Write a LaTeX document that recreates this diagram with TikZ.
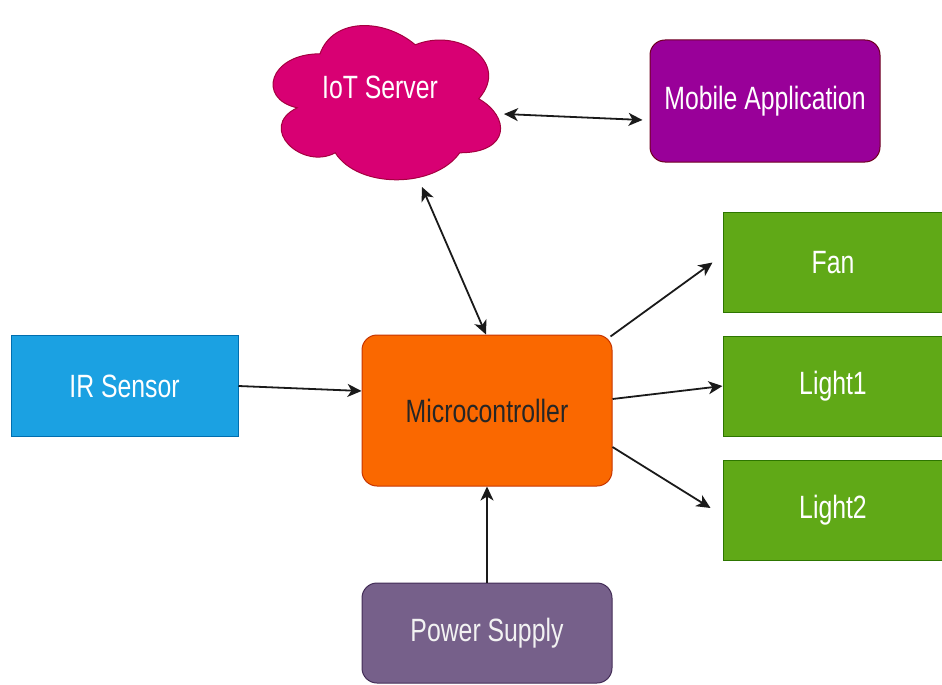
\documentclass[tikz,border=0pt]{standalone}
\usepackage{fontspec}
\setmainfont{Liberation Sans}
\usepackage{graphicx}
\usetikzlibrary{arrows.meta}

\definecolor{cloudfill}{HTML}{D80073}
\definecolor{cloudline}{HTML}{A50040}
\definecolor{mobfill}{HTML}{990099}
\definecolor{mobline}{HTML}{6F0020}
\definecolor{grnfill}{HTML}{60A917}
\definecolor{grnline}{HTML}{2D7600}
\definecolor{bluefill}{HTML}{1BA1E2}
\definecolor{blueline}{HTML}{006EAF}
\definecolor{orgfill}{HTML}{FA6800}
\definecolor{orgline}{HTML}{C73500}
\definecolor{psfill}{HTML}{76608A}
\definecolor{psline}{HTML}{432D57}
\definecolor{wire}{HTML}{1A1A1A}

% taller-than-wide lettering used for every label
\newcommand{\talltext}[1]{\scalebox{1}[1.3]{#1}}

\tikzset{
  labelfont/.style={font=\fontsize{24.8}{28}\selectfont},
  box/.style={draw, line width=1pt, inner sep=0pt, anchor=center, labelfont},
  roundbox/.style={box, rounded corners=15pt},
  actuator/.style={box, fill=grnfill, draw=grnline, text=white,
                   minimum width=220pt, minimum height=100pt},
  tip/.style={},
  link/.style={line width=1.8pt, wire,
               -{Stealth[length=14pt,width=13pt,inset=4pt]}},
  duplex/.style={line width=1.8pt, wire,
               {Stealth[length=14pt,width=13pt,inset=4pt]}-{Stealth[length=14pt,width=13pt,inset=4pt]}}
}

\begin{document}
\begin{tikzpicture}[x=1pt,y=-1pt]
\useasboundingbox (0,0) rectangle (942,685);

% cloud outline for the IoT server
\begin{scope}[shift={(256.5,8.8)}, x=254pt, y=-180pt]
  \fill[cloudfill, draw=cloudline, line width=1pt]
    (0.25,0.25) .. controls (0.05,0.25) and (0,0.5) .. (0.16,0.55)
    .. controls (0,0.66) and (0.18,0.9) .. (0.31,0.8)
    .. controls (0.4,1) and (0.7,1) .. (0.8,0.8)
    .. controls (1,0.8) and (1,0.6) .. (0.875,0.5)
    .. controls (1,0.3) and (0.8,0.1) .. (0.625,0.2)
    .. controls (0.5,0.05) and (0.3,0.05) .. (0.25,0.25) -- cycle;
\end{scope}
\node[labelfont, text=white] (iot) at (380,87) {\talltext{IoT Server}};
\coordinate (iotE) at (504,114);
\coordinate (iotS) at (422,187);

% blocks
\node[roundbox, fill=mobfill, draw=mobline, text=white,
      minimum width=230pt, minimum height=122pt] (mob) at (765,101) {\talltext{Mobile Application}};

\node[actuator] (fan)    at (833,262.5) {\talltext{Fan}};
\node[actuator] (light1) at (833,386)   {\talltext{Light1}};
\node[actuator] (light2) at (833,510)   {\talltext{Light2}};

\node[box, fill=bluefill, draw=blueline, text=white,
      minimum width=227pt, minimum height=101pt] (ir) at (124.5,386) {\talltext{IR Sensor}};

\node[roundbox, fill=orgfill, draw=orgline, text=black!85,
      minimum width=250pt, minimum height=151pt] (mc) at (487,410.5) {\talltext{Microcontroller}};

\node[roundbox, fill=psfill, draw=psline, text=white!95!black,
      minimum width=250pt, minimum height=100pt] (ps) at (487,633) {\talltext{Power Supply}};

% connectors
\draw[duplex] (iotE) -- ([xshift=-7pt,yshift=-19pt]mob.west);
\draw[duplex] (iotS) -- ([xshift=-1pt]mc.north);
\draw[link] (ir.east) -- ([yshift=19.5pt]mc.west);
\draw[link] ([shift={(-2pt,-2pt)}]mc.north east) -- ([xshift=-10pt]fan.west);
\draw[link] ([yshift=11.5pt]mc.east) -- (light1.west);
\draw[link] ([yshift=-36.5pt]mc.east) -- ([xshift=-12pt,yshift=2pt]light2.west);
\draw[link] (ps.north) -- (mc.south);
\end{tikzpicture}
\end{document}
